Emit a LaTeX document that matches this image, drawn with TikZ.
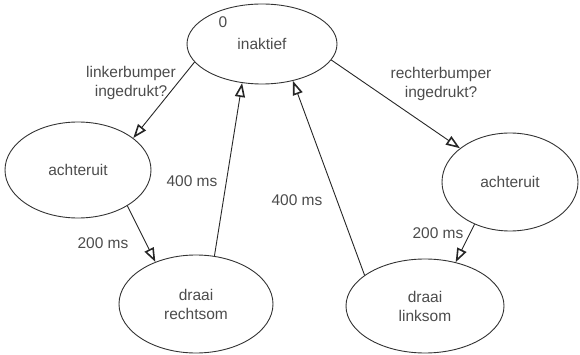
\documentclass[tikz,border=0pt]{standalone}
\usepackage{fontspec}
\setmainfont{Liberation Sans}
\usetikzlibrary{shapes.geometric,arrows.meta}
\begin{document}
\begin{tikzpicture}[x=1pt,y=-1pt,
  txt/.style={font=\fontsize{15.5}{19}\selectfont,text=black!70,align=center},
  state/.style={ellipse,draw=black!80,line width=0.9pt,inner sep=0pt,txt},
  trans/.style={draw=black!85,line width=0.9pt,-{Triangle[open,length=14pt,width=10pt,line width=1.6pt]}},
  lbl/.style={txt,inner sep=0pt}]
\useasboundingbox (0,0) rectangle (580,355);
\node[state,minimum width=150pt,minimum height=80pt] (I) at (262,44) {inaktief};
\node[lbl] (zero) at (223,22) {0};
\node[state,minimum width=146pt,minimum height=96pt] (A1) at (78,170) {achteruit};
\node[state,minimum width=136pt,minimum height=98pt] (A2) at (510,182) {achteruit};
\node[state,minimum width=154pt,minimum height=98pt] (R) at (196,304) {draai\\rechtsom};
\node[state,minimum width=158pt,minimum height=94pt] (L) at (425,306) {draai\\linksom};

\draw[trans] (I.195) -- (A1.30);
\draw[trans] (I.-13) -- (A2.146);
\draw[trans] (A1.-36) -- (R.134);
\draw[trans] (R.69) -- (I.-117);
\draw[trans] (L.153) -- (I.-50);
\draw[trans] (A2.230) -- (L.55);

\node[lbl] (l1) at (131,83) {linkerbumper\\ingedrukt?};
\node[lbl] (l2) at (441,84) {rechterbumper\\ingedrukt?};
\node[lbl] (l3) at (192,181) {400 ms};
\node[lbl] (l4) at (297,200) {400 ms};
\node[lbl] (l5) at (103,243) {200 ms};
\node[lbl] (l6) at (438,233) {200 ms};
\end{tikzpicture}
\end{document}
